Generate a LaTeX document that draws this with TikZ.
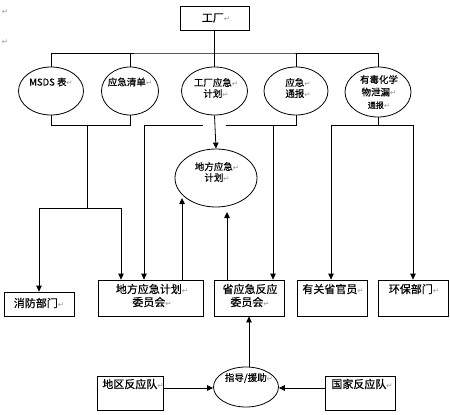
\documentclass[tikz,border=0pt]{standalone}
\usepackage{fontspec}
\setmainfont{Noto Sans CJK SC}
\newfontfamily\cjk[FakeBold=0.4]{Noto Sans CJK SC}
\newfontfamily\djv{DejaVu Sans}
\usetikzlibrary{shapes.geometric,arrows.meta,calc}
\newcommand\retm{{\djv\color{black!40}\fontsize{7.5}{8}\selectfont ↵}}
\begin{document}
\begin{tikzpicture}[x=1pt,y=-1pt,
  ln/.style={line width=0.8pt},
  arr/.style={ln,-{Triangle[length=6pt,width=5.5pt]}},
  boxn/.style={draw,ln,rectangle,inner sep=0pt},
  elln/.style={draw,ln,ellipse,inner sep=0pt},
  txt/.style={inner sep=0pt,font=\cjk\fontsize{11}{13}\selectfont},
  etxt/.style={inner sep=0pt,font=\cjk\fontsize{9.5}{11}\selectfont},
  retmk/.style={inner sep=0pt}]
\useasboundingbox (0,0) rectangle (450,415);
% stray marks
\node[retmk] (m1) at (5,12) {\retm};
\node[retmk] (m2) at (5,42) {\retm};
% factory
\node[boxn,minimum width=69pt,minimum height=24pt] (fac) at (214.5,18) {};
\node[txt] (facT) at (216,18) {工厂\retm};
% ellipses row
\node[elln,minimum width=65pt,minimum height=48pt] (e1) at (51,91) {};
\node[elln,minimum width=57pt,minimum height=48pt] (e2) at (130,91) {};
\node[elln,minimum width=66pt,minimum height=48pt] (e3) at (214.5,91) {};
\node[elln,minimum width=64pt,minimum height=48pt] (e4) at (296,91) {};
\node[elln,minimum width=66pt,minimum height=50pt] (e5) at (378,92) {};
\node[etxt] (e1T) at (51,82) {MSDS 表\retm};
\node[etxt] (e2T) at (130,82) {应急清单\retm};
\node[etxt,align=center] (e3T) at (216,88) {工厂应急\retm\\计划\retm};
\node[etxt,align=center] (e4T) at (298,88) {应急\retm\\通报\retm};
\node[etxt,align=center,font=\cjk\fontsize{9.5}{12.5}\selectfont] (e5T) at (379,92) {有毒化学\\物泄漏\retm\\{\fontsize{8}{8}\selectfont 通报}\retm};
% local plan ellipse
\node[elln,minimum width=82pt,minimum height=58pt] (lp) at (216,178) {};
\node[etxt,align=center] (lpT) at (217,172) {地方应急\retm\\计划\retm};
% boxes row
\node[boxn,minimum width=70pt,minimum height=24pt] (xf) at (39,304) {};
\node[txt] (xfT) at (39,303) {消防部门\retm};
\node[boxn,minimum width=105pt,minimum height=36pt] (df) at (150.5,298) {};
\node[txt,align=center] (dfT) at (152,295.5) {地方应急计划\retm\\委员会\retm};
\node[boxn,minimum width=70pt,minimum height=36pt] (sh) at (249,298) {};
\node[txt,align=center] (shT) at (250,295.5) {省应急反应\\委员会\retm};
\node[boxn,minimum width=70pt,minimum height=36pt] (gy) at (332,298) {};
\node[txt] (gyT) at (333,289) {有关省官员\retm};
\node[boxn,minimum width=70pt,minimum height=36pt] (hb) at (413,298) {};
\node[txt] (hbT) at (414,289) {环保部门\retm};
% bottom row
\node[boxn,minimum width=66pt,minimum height=34pt] (dq) at (130,393) {};
\node[txt] (dqT) at (133,384) {地区反应队\retm};
\node[boxn,minimum width=70pt,minimum height=34pt] (gj) at (360,393) {};
\node[txt] (gjT) at (362,384) {国家反应队\retm};
\node[elln,minimum width=65pt,minimum height=40pt] (zd) at (246,387) {};
\node[etxt] (zdT) at (249,378) {指导/援助\retm};
% coordinates
\coordinate (bus) at (214.5,53);
\coordinate (b1) at (0,125);
% top bus
\draw[ln] (fac.south) -- (bus);
\draw[ln] (e1.north) |- (bus) -| (e5.north);
\draw[ln] (e2.north) -- (e2.north |- bus);
\draw[ln] (e3.north) -- (bus);
\draw[ln] (e4.north) -- (e4.north |- bus);
% left group
\draw[ln] (e1.south) |- (e1.south |- b1) -| (e2.south);
\coordinate (lm) at (87,125);
\coordinate (lb) at (87,208);
\draw[ln] (lm) -- (lb);
\coordinate (lbl) at (xf.north |- lb);
\coordinate (lbr) at (121,208);
\draw[ln] (lbl) -- (lbr);
\draw[arr] (lbl) -- (xf.north);
\draw[arr] (lbr) -- (lbr |- df.north);
% center group
\draw[arr] (e3.south) -- (lp.north);
\coordinate (cl1) at (144,125);
\coordinate (cl2) at (203,125);
\draw[ln] (cl1) -- (cl2);
\draw[arr] (cl1) -- (cl1 |- df.north);
\coordinate (cr1) at (226,125);
\coordinate (cr2) at (273,125);
\draw[ln] (e4.south) -- (e4.south |- cr1) -- (cr1);
\draw[arr] (cr2) -- (cr2 |- sh.north);
\coordinate (up1) at (182,198);
\coordinate (up2) at (227,212);
\draw[arr] (up1 |- df.north) -- (up1);
\draw[arr] (up2 |- sh.north) -- (up2);
% right group
\coordinate (r1) at (331,125);
\coordinate (r2) at (413,125);
\draw[ln] (e5.south) -- (e5.south |- r1);
\draw[ln] (r1) -- (r2);
\draw[arr] (r1) -- (r1 |- gy.north);
\draw[arr] (r2) -- (r2 |- hb.north);
% bottom
\draw[arr] (zd.north -| sh.south) -- (sh.south);
\draw[arr] (dq.east |- 0,388) -- (zd.west |- 0,388);
\draw[arr] (gj.west |- 0,388) -- (zd.east |- 0,388);
\end{tikzpicture}
\end{document}
